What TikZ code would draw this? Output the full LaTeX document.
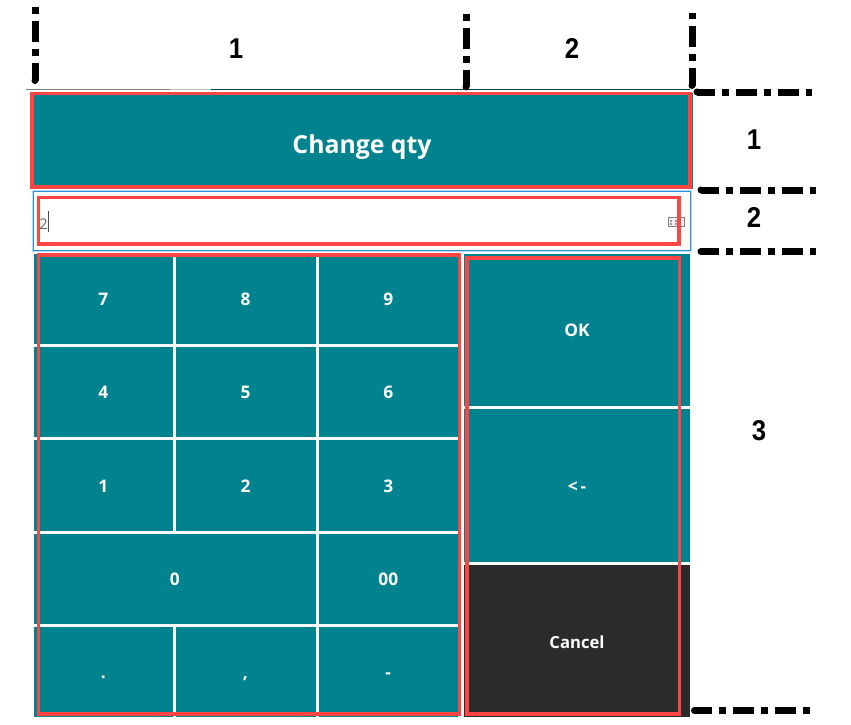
\documentclass[tikz,border=0pt]{standalone}
\usepackage{xcolor}
\usepackage{fontspec}
\usepackage{tikz}
\setmainfont{Open Sans}
\newfontfamily\dimfont[FakeStretch=0.9]{Liberation Sans}
\usetikzlibrary{
arrows.meta,
positioning
}
\definecolor{keyteal}{HTML}{00828F}
\definecolor{keydark}{HTML}{2B2B2B}
\definecolor{markred}{HTML}{FF4444}
\definecolor{fieldblue}{HTML}{2B8FD6}
\definecolor{fieldhalo}{HTML}{BBDDF5}
\def\px{0.75pt}

\begin{document}
\begin{tikzpicture}[
x=\px,
y=-\px,
keybox/.style n args={2}{
rectangle,
fill=keyteal,
text=white,
inner sep=0pt,
minimum width=#1*\px,
minimum height=#2*\px,
text height=10.8pt,
text depth=0pt,
font=\fontsize{13}{13}\selectfont\bfseries
},
markbox/.style={draw=markred,line width=3.2*\px},
dimline/.style={
line width=7*\px,
dash pattern=on 21*\px off 7*\px on 7*\px off 7*\px,
dash phase=3.5*\px
},
dimlabel/.style={font=\dimfont\fontsize{21.5}{21.5}\selectfont\bfseries}
]
\useasboundingbox (0,0) rectangle (851,725);

% top rule
\draw[black!50,line width=1*\px] (26,89) -- (170,89);
\draw[black!25,line width=1*\px] (170,89) -- (211,89);
\draw[keyteal!50!black,line width=1*\px] (211,89) -- (690,89);

% header
\node[keybox={662}{96}, text height=18pt, font=\fontsize{18.6}{18.6}\selectfont\bfseries] (header) at (362,141) {Change qty};

% input field
\node[rectangle, draw=fieldhalo, line width=2*\px, minimum width=658*\px, minimum height=60*\px, inner sep=0pt] (fieldhalo) at (362,221) {};
\node[rectangle, draw=fieldblue, line width=1*\px, minimum width=657*\px, minimum height=59*\px, inner sep=0pt] (field) at (362,221) {};
\node[anchor=base west, inner sep=0pt, text=black!60, font=\fontsize{11}{11}\selectfont] (value) at (39,229) {2};
\draw[black!70,line width=1*\px] (48,211) -- (48,232);
\node[rectangle, draw=black!50, fill=black!6, line width=1*\px, minimum width=16*\px, minimum height=9*\px, inner sep=0pt] (kbd) at (676.5,222) {};
\draw[black!40,line width=2*\px,dotted] (kbd.west) ++(2,-1.5) -- ++(13,0);
\draw[black!40,line width=2*\px,dotted] (kbd.west) ++(2,2) -- ++(13,0);

% number keys
\foreach \name/\cx/\cy/\kw/\kh/\txt in {
k7/103.25/298.75/138.5/89.5/7, k8/245.5/298.75/140/89.5/8, k9/388.25/298.75/139.5/89.5/9,
k4/103.25/391.5/138.5/90/4, k5/245.5/391.5/140/90/5, k6/388.25/391.5/139.5/90/6,
k1/103.25/485/138.5/91/1, k2/245.5/485/140/91/2, k3/388.25/485/139.5/91/3,
k0/174.75/578.5/281.5/90/0, kzz/388.25/578.5/139.5/90/00,
kdot/103.25/671.75/138.5/90.5/., kcomma/245.5/671.75/140/90.5/{,}, kminus/388.25/671.75/139.5/90.5/-
}{
\node[keybox={\kw}{\kh}] (\name) at (\cx,\cy) {\txt};
}

% action keys
\node[keybox={226}{151.5}] (ok) at (577,329.75) {OK};
\node[keybox={226}{153.5}] (back) at (577,485.25) {<\,-};
\node[keybox={226}{152}, fill=keydark, font=\fontsize{12.5}{12.5}\selectfont\bfseries] (cancel) at (577,641) {Cancel};

% red frames
\draw[markbox] (32,93.5) rectangle (690,187);
\draw[markbox] (38.5,197.5) rectangle (679,244);
\draw[markbox] (38.5,255) rectangle (459.5,714);
\draw[markbox] (467,258) rectangle (679.5,714);

% dash dot marks
\foreach \xa/\ya/\xb/\yb in {
35/80.5/35/7, 466/87/466/14, 692/85.5/692/13,
697/92/812/92, 701/190/816/190, 701/251.5/816/251.5, 694.5/710.5/810/710.5
}{
\fill (\xa,\ya) circle[radius=3.5*\px];
\draw[dimline] (\xa,\ya) -- (\xb,\yb);
}

\node[dimlabel] (top1) at (236,48.5) {1};
\node[dimlabel] (top2) at (572,48.5) {2};
\node[dimlabel] (side1) at (754,140) {1};
\node[dimlabel] (side2) at (754,217) {2};
\node[dimlabel] (side3) at (759,431) {3};

\end{tikzpicture}
\end{document}
